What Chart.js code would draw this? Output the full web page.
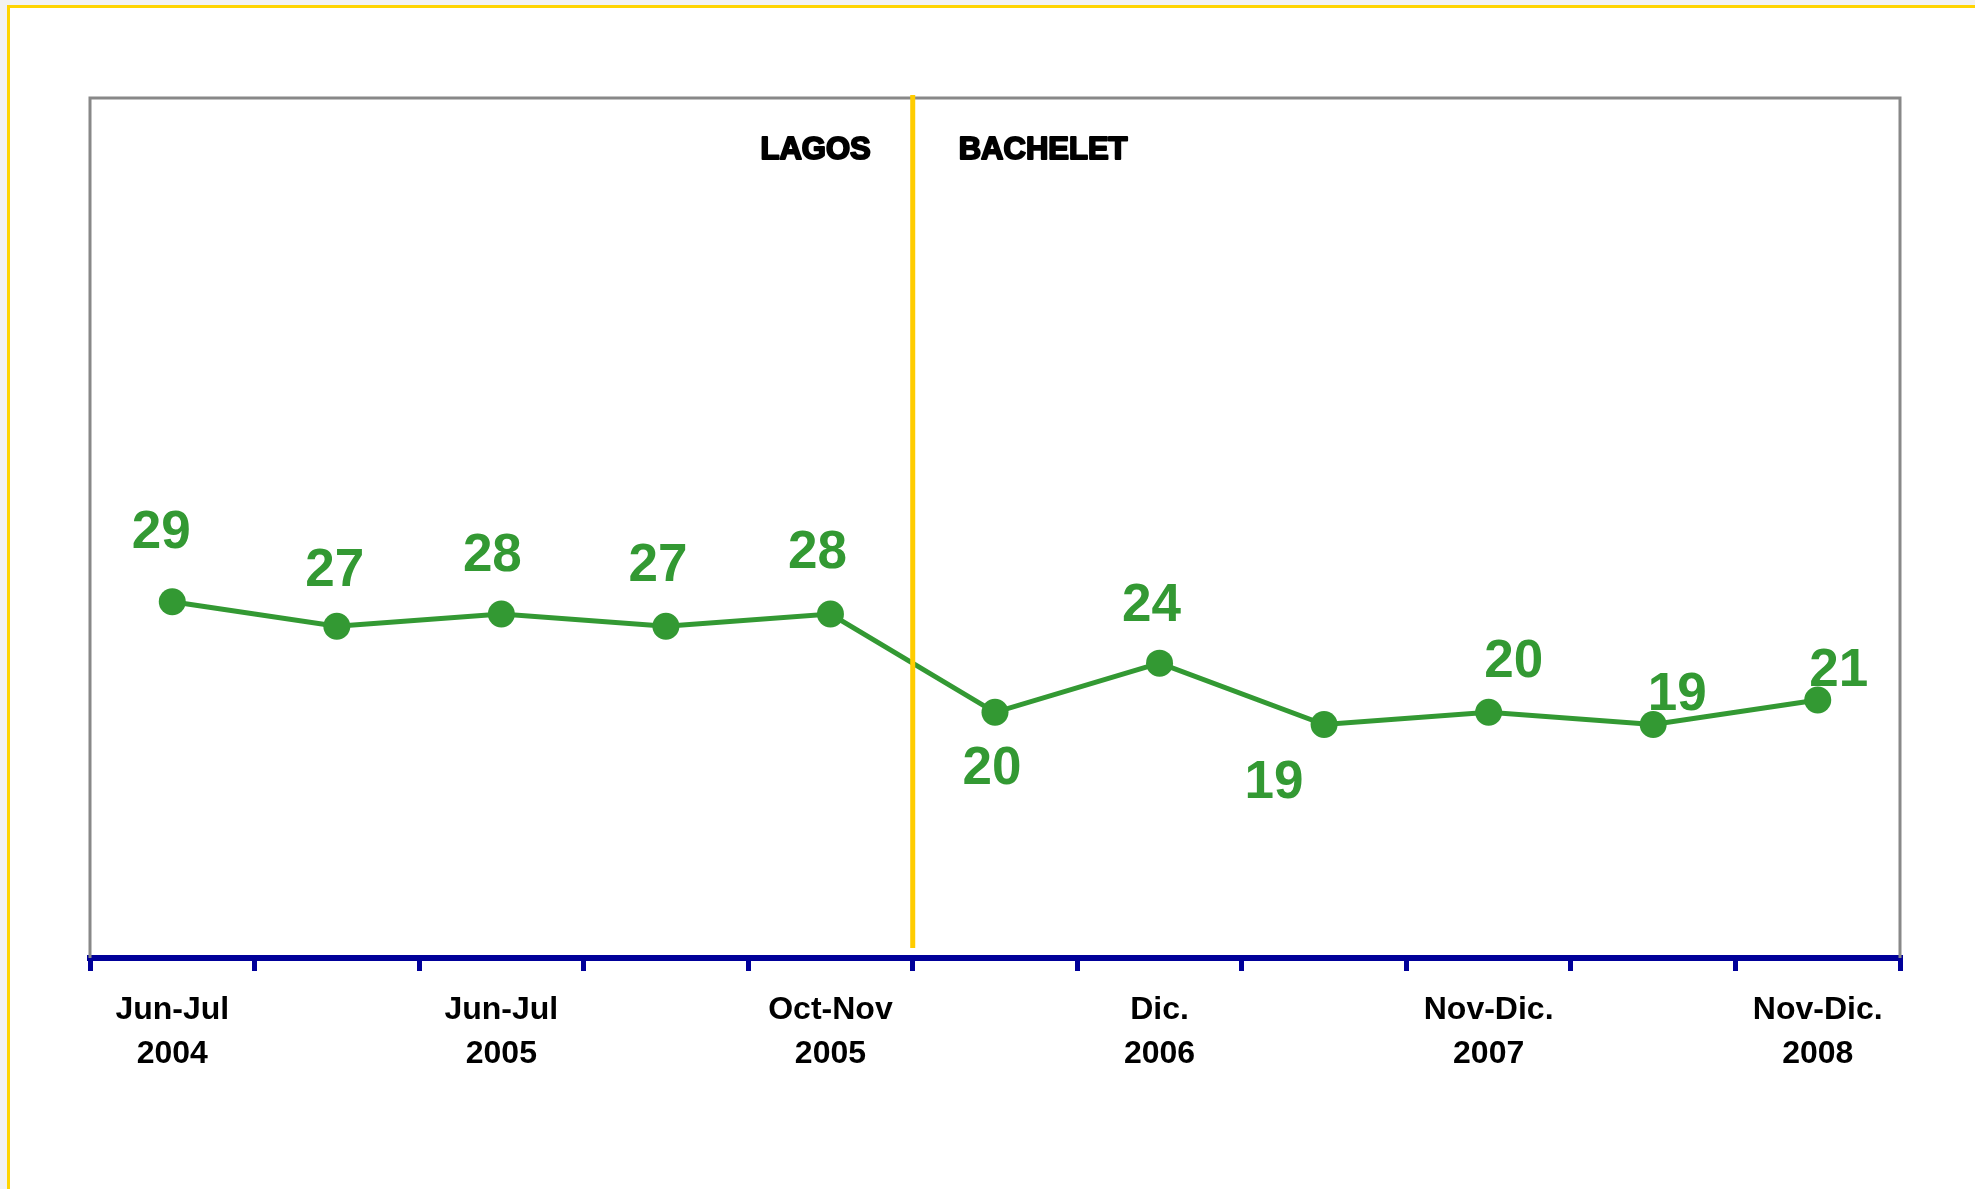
<!DOCTYPE html>
<html>
<head>
<meta charset="utf-8">
<script src="https://cdn.jsdelivr.net/npm/chart.js@4.4.1/dist/chart.umd.min.js"></script>
<style>
  html, body { margin: 0; padding: 0; background: #f2f2f2; overflow: hidden; width: 1975px; height: 1189px; }
  #panel { position: absolute; left: 7px; top: 5px; width: 2000px; height: 1300px; background: #ffffff;
           border-left: 3px solid #ffd400; border-top: 3px solid #ffd400; }
  #c { position: absolute; left: 0; top: 0; }
</style>
</head>
<body>
<div id="panel"></div>
<canvas id="c" width="1975" height="1189"></canvas>
<script>
// ---- data ----
const categories = [
  ['Jun-Jul', '2004'], '', ['Jun-Jul', '2005'], '', ['Oct-Nov', '2005'], '',
  ['Dic.', '2006'], '', ['Nov-Dic.', '2007'], '', ['Nov-Dic.', '2008']
];
const values = [29, 27, 28, 27, 28, 20, 24, 19, 20, 19, 21];
const periodLabels = ['LAGOS', 'BACHELET'];
const dividerAfterIndex = 4;
const yMin = 0;
const yMax = 70;

// ---- label placement (offsets of value labels from their points, px) ----
const labelOffsets = [
  [-11, -68], [-2, -55], [-9, -58], [-8, -60], [-13, -61], [-3, 57],
  [-8, -57], [-50, 59], [25, -50], [24, -29], [21, -29]
];

const GREEN = '#339933';
const FONT = '"Liberation Sans", Arial, Helvetica, sans-serif';

const decorPlugin = {
  id: 'decor',
  beforeDatasetsDraw(chart) {
    const ctx = chart.ctx, a = chart.chartArea;
    ctx.save();
    ctx.strokeStyle = '#888888';
    ctx.lineWidth = 3;
    ctx.beginPath();
    ctx.moveTo(a.left, a.bottom);
    ctx.lineTo(a.left, a.top);
    ctx.lineTo(a.right, a.top);
    ctx.lineTo(a.right, a.bottom);
    ctx.stroke();
    ctx.restore();
  },
  afterDatasetsDraw(chart) {
    const ctx = chart.ctx, a = chart.chartArea;
    const xs = chart.scales.x, ys = chart.scales.y;
    const xd = (xs.getPixelForValue(dividerAfterIndex) + xs.getPixelForValue(dividerAfterIndex + 1)) / 2;
    ctx.save();
    // divider
    ctx.strokeStyle = '#ffcc00';
    ctx.lineWidth = 5;
    ctx.beginPath();
    ctx.moveTo(xd, a.top - 3);
    ctx.lineTo(xd, ys.getPixelForValue(yMin) - 10);
    ctx.stroke();
    // period labels
    ctx.fillStyle = '#000000';
    ctx.strokeStyle = '#000000';
    ctx.lineWidth = 2;
    ctx.lineJoin = 'round';
    ctx.font = 'bold 31px ' + FONT;
    ctx.textBaseline = 'alphabetic';
    ctx.textAlign = 'right';
    ctx.fillText(periodLabels[0], xd - 42, a.top + 61);
    ctx.strokeText(periodLabels[0], xd - 42, a.top + 61);
    ctx.textAlign = 'left';
    ctx.fillText(periodLabels[1], xd + 46, a.top + 61);
    ctx.strokeText(periodLabels[1], xd + 46, a.top + 61);
    // value labels
    const meta = chart.getDatasetMeta(0);
    ctx.fillStyle = GREEN;
    ctx.font = 'bold 53px ' + FONT;
    ctx.textAlign = 'center';
    ctx.textBaseline = 'middle';
    meta.data.forEach((pt, i) => {
      const off = labelOffsets[i];
      ctx.fillText(String(values[i]), pt.x + off[0], pt.y + off[1]);
    });
    ctx.restore();
  }
};

new Chart(document.getElementById('c'), {
  type: 'line',
  data: {
    labels: categories,
    datasets: [{
      data: values,
      borderColor: GREEN,
      backgroundColor: GREEN,
      borderWidth: 5,
      pointRadius: 13.5,
      pointHoverRadius: 13.5,
      pointBackgroundColor: GREEN,
      pointBorderColor: GREEN,
      pointBorderWidth: 0,
      tension: 0,
      fill: false,
      clip: false
    }]
  },
  options: {
    responsive: false,
    animation: false,
    events: [],
    layout: { padding: { left: 90, right: 75, top: 98, bottom: 0 } },
    plugins: { legend: { display: false }, tooltip: { enabled: false }, title: { display: false } },
    scales: {
      x: {
        type: 'category',
        offset: true,
        afterFit(scale) { scale.height = 231; },
        grid: {
          offset: true,
          drawOnChartArea: false,
          drawTicks: true,
          tickLength: 13,
          tickWidth: 5,
          tickColor: '#000099',
          color: '#000099',
          lineWidth: 5
        },
        border: { display: true, color: '#000099', width: 6 },
        ticks: {
          autoSkip: false,
          maxRotation: 0,
          minRotation: 0,
          padding: 17,
          color: '#000000',
          font: { family: FONT, size: 32, weight: 'bold', lineHeight: 1.375 }
        }
      },
      y: {
        display: false,
        min: yMin,
        max: yMax
      }
    }
  },
  plugins: [decorPlugin]
});
</script>
</body>
</html>
